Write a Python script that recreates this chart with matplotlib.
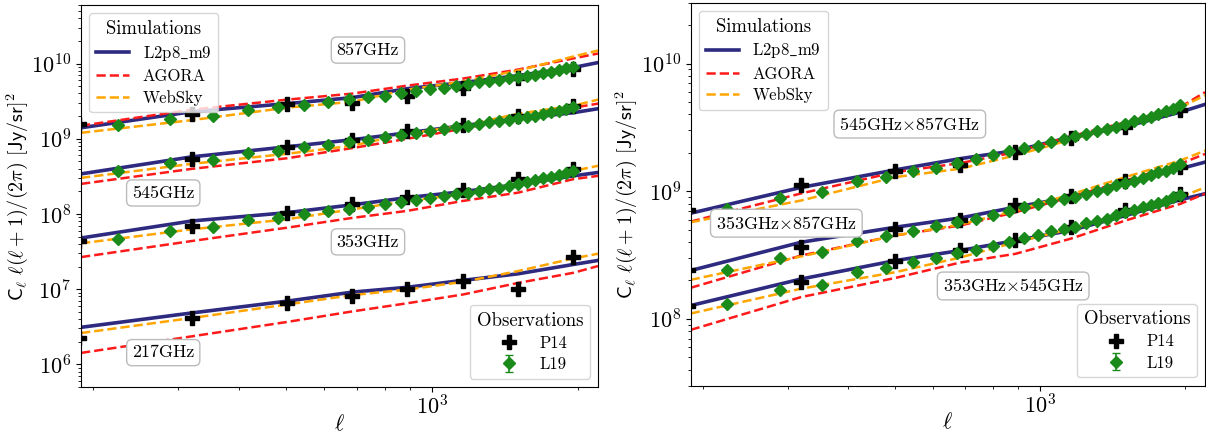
import numpy as np
import matplotlib
matplotlib.use('Agg')
import matplotlib.pyplot as plt
from matplotlib.ticker import NullFormatter

plt.rcParams['font.family'] = 'serif'
plt.rcParams['font.serif'] = ['cmr10']
plt.rcParams['mathtext.fontset'] = 'cm'
plt.rcParams['axes.formatter.use_mathtext'] = True
plt.rcParams['axes.unicode_minus'] = False

# multipoles
sim_ell = [189, 320, 502, 684, 890, 1158, 1505, 1956, 2200]
p14_ell = [187, 320, 502, 684, 890, 1158, 1505, 1956]
l19_ell = [225, 289, 353, 417, 481, 545, 609, 673, 737, 801, 865, 929, 993, 1057,
           1121, 1185, 1249, 1313, 1377, 1441, 1505, 1569, 1633, 1697, 1761, 1825, 1889, 1953]

# ---- auto spectra
l2p8_857 = [1.40e9, 2.29e9, 2.93e9, 3.52e9, 4.64e9, 5.58e9, 6.92e9, 8.85e9, 1.03e10]
agora_857 = [1.49e9, 2.44e9, 3.31e9, 3.98e9, 5.09e9, 6.31e9, 8.32e9, 1.17e10, 1.36e10]
websky_857 = [1.20e9, 1.77e9, 2.59e9, 3.10e9, 4.50e9, 5.75e9, 8.07e9, 1.24e10, 1.49e10]
p14_857 = [1.58e9, 2.15e9, 2.93e9, 3.02e9, 3.74e9, 4.79e9, 6.5e9, 8.58e9]
l19_857 = [1.54e9, 1.83e9, 1.98e9, 2.44e9, 2.62e9, 2.84e9, 3.05e9, 3.38e9, 3.56e9, 3.74e9,
           4.02e9, 4.37e9, 4.59e9, 4.74e9, 5.09e9, 5.36e9, 5.64e9, 5.93e9, 6.12e9, 6.44e9,
           6.71e9, 6.92e9, 7.13e9, 7.43e9, 7.82e9, 8.32e9, 8.67e9, 9.12e9]

l2p8_545 = [3.41e8, 5.75e8, 7.81e8, 9.7e8, 1.20e9, 1.49e9, 1.85e9, 2.22e9, 2.51e9]
agora_545 = [2.51e8, 3.98e8, 5.5e8, 7.5e8, 1.0e9, 1.36e9, 1.91e9, 2.59e9, 2.93e9]
websky_545 = [3.02e8, 4.64e8, 6.31e8, 8.07e8, 1.17e9, 1.49e9, 2.15e9, 2.75e9, 3.31e9]
p14_545 = [np.nan, 5.41e8, 7.81e8, 9.7e8, 1.28e9, 1.54e9, 2.03e9, 2.75e9]
l19_545 = [3.74e8, 4.74e8, 5.25e8, 6.44e8, 6.92e8, 7.82e8, 8.32e8, 8.93e8, 9.6e8, 1.04e9,
           1.12e9, 1.18e9, 1.25e9, 1.35e9, 1.45e9, 1.49e9, 1.57e9, 1.65e9, 1.70e9, 1.77e9,
           1.89e9, 1.96e9, 2.03e9, 2.13e9, 2.24e9, 2.36e9, 2.49e9, 2.61e9]

l2p8_353 = [4.79e7, 8.07e7, 1.04e8, 1.32e8, 1.65e8, 1.98e8, 2.47e8, 3.21e8, 3.56e8]
agora_353 = [2.67e7, 4.37e7, 6.56e7, 8.85e7, 1.10e8, 1.49e8, 1.92e8, 2.90e8, 3.21e8]
websky_353 = [4.07e7, 6.25e7, 8.49e7, 1.15e8, 1.49e8, 1.83e8, 2.51e8, 3.74e8, 4.37e8]
p14_353 = [4.37e7, 6.92e7, 1.02e8, 1.35e8, 1.70e8, 2.07e8, 2.9e8, 3.94e8]
l19_353 = [4.60e7, 5.93e7, 6.71e7, 8.24e7, 8.93e7, 1.01e8, 1.10e8, 1.18e8, 1.25e8, 1.37e8,
           1.46e8, 1.54e8, 1.65e8, 1.74e8, 1.83e8, 1.92e8, 2.03e8, 2.13e8, 2.24e8, 2.36e8,
           2.47e8, 2.63e8, 2.80e8, 2.97e8, 3.11e8, 3.31e8, 3.52e8, 3.74e8]

l2p8_217 = [3.11e6, 4.83e6, 6.92e6, 9.12e6, 1.06e7, 1.31e7, 1.60e7, 2.13e7, 2.41e7]
agora_217 = [1.42e6, 2.36e6, 3.66e6, 5.05e6, 6.5e6, 8.49e6, 1.21e7, 1.65e7, 2.03e7]
websky_217 = [2.61e6, 4.14e6, 6.25e6, 8.32e6, 9.9e6, 1.25e7, 1.74e7, 2.56e7, 2.96e7]
p14_217 = [2.22e6, 4.14e6, 6.56e6, 8.07e6, 1.02e7, 1.28e7, 1.02e7, 2.67e7]

# ---- cross spectra
l2p8_545x857 = [6.72e8, 1.07e9, 1.47e9, 1.80e9, 2.08e9, 2.65e9, 3.21e9, 4.17e9, 4.79e9]
agora_545x857 = [5.78e8, 9.6e8, 1.41e9, 1.66e9, 2.02e9, 2.69e9, 3.47e9, 4.56e9, 5.97e9]
websky_545x857 = [5.71e8, 8.45e8, 1.29e9, 1.50e9, 1.91e9, 2.53e9, 3.38e9, 4.53e9, 5.64e9]
p14_545x857 = [7.14e8, 1.11e9, 1.44e9, 1.59e9, 2.02e9, 2.61e9, 3.21e9, 4.30e9]
l19_545x857 = [7.28e8, 8.87e8, 9.82e8, 1.21e9, 1.29e9, 1.44e9, 1.51e9, 1.66e9, 1.80e9, 1.91e9,
               2.06e9, 2.17e9, 2.28e9, 2.45e9, 2.58e9, 2.69e9, 2.82e9, 2.96e9, 3.09e9, 3.21e9,
               3.38e9, 3.52e9, 3.65e9, 3.80e9, 4.0e9, 4.22e9, 4.43e9, 4.70e9]

l2p8_353x857 = [2.39e8, 3.98e8, 5.22e8, 6.17e8, 7.5e8, 8.98e8, 1.16e9, 1.50e9, 1.69e9]
agora_353x857 = [1.75e8, 3.13e8, 4.50e8, 5.38e8, 6.84e8, 8.98e8, 1.21e9, 1.64e9, 1.96e9]
websky_353x857 = [2.02e8, 3.08e8, 4.5e8, 5.48e8, 7.05e8, 9.42e8, 1.29e9, 1.74e9, 2.08e9]
p14_353x857 = [2.42e8, 3.64e8, 5.07e8, 5.97e8, 7.73e8, 9.25e8, 1.21e9, 1.54e9]
l19_353x857 = [2.42e8, 3.01e8, 3.33e8, 4.10e8, 4.44e8, 4.86e8, 5.38e8, 5.78e8, 6.08e8, 6.56e8,
               7.05e8, 7.50e8, 7.96e8, 8.45e8, 8.71e8, 9.08e8, 9.55e8, 1.0e9, 1.04e9, 1.11e9,
               1.16e9, 1.21e9, 1.27e9, 1.33e9, 1.41e9, 1.45e9, 1.53e9, 1.62e9]

l2p8_353x545 = [1.27e8, 2.05e8, 2.86e8, 3.43e8, 4.10e8, 4.92e8, 6.44e8, 8.57e8, 9.55e8]
agora_353x545 = [8.19e7, 1.48e8, 2.09e8, 2.76e8, 3.23e8, 4.24e8, 5.89e8, 7.96e8, 9.55e8]
websky_353x545 = [1.10e8, 1.72e8, 2.32e8, 3.02e8, 3.98e8, 5.07e8, 6.72e8, 8.98e8, 1.07e9]
p14_353x545 = [1.27e8, 1.93e8, 2.82e8, 3.47e8, 4.16e8, 5.28e8, 7.06e8, 9.55e8]
l19_353x545 = [1.31e8, 1.69e8, 1.85e8, 2.32e8, 2.51e8, 2.77e8, 3.01e8, 3.27e8, 3.47e8, 3.75e8,
               4.03e8, 4.31e8, 4.55e8, 4.86e8, 5.07e8, 5.22e8, 5.61e8, 5.82e8, 6.08e8, 6.56e8,
               6.84e8, 7.14e8, 7.50e8, 7.73e8, 8.11e8, 8.45e8, 8.97e8, 9.42e8]

l19_rel_err = 0.03

c_sim = '#2d2a80'
c_agora = '#ff1a1a'
c_websky = '#ffa500'
c_l19 = '#1a8a1a'


def draw_group(ax, l2p8, agora, websky, p14, l19=None):
    ax.plot(sim_ell, l2p8, '-', color=c_sim, lw=2.6, label=r'L2p8$\_$m9')
    ax.plot(sim_ell, agora, '--', color=c_agora, lw=1.8, label='AGORA')
    ax.plot(sim_ell, websky, '--', color=c_websky, lw=1.8, label='WebSky')
    ax.plot(p14_ell, p14, 'P', color='k', ms=10, ls='none', label='P14')
    if l19 is not None:
        l19 = np.array(l19)
        ax.errorbar(l19_ell, l19, yerr=l19_rel_err * l19, fmt='D', color=c_l19,
                    ms=6, capsize=3, elinewidth=1.2, label='L19')


def finish(ax, ylim, boxes):
    ax.set_xscale('log')
    ax.set_yscale('log')
    ax.set_xlim(189, 2200)
    ax.set_ylim(*ylim)
    ax.xaxis.set_minor_formatter(NullFormatter())
    ax.tick_params(labelsize=16)
    ax.tick_params(axis='x', pad=2)
    ax.set_xlabel(r'$\ell$', fontsize=16, labelpad=-4)
    ax.set_ylabel(r'$\mathsf{C}_\ell\ \ell(\ell+1)/(2\pi)\ [\mathsf{Jy/sr}]^2$', fontsize=14.5,
                  labelpad=1)
    for (tx, ty, s) in boxes:
        ax.text(tx, ty, s, transform=ax.transAxes, fontsize=13, ha='center', va='center',
                bbox=dict(boxstyle='round,pad=0.3', fc='white', ec='#bbbbbb'))
    h, l = ax.get_legend_handles_labels()
    sims = [h[l.index(k)] for k in [r'L2p8$\_$m9', 'AGORA', 'WebSky']]
    obs = [h[l.index(k)] for k in ['P14', 'L19']]
    leg1 = ax.legend(sims, [r'L2p8$\_$m9', 'AGORA', 'WebSky'], title='Simulations',
                     loc='upper left', fontsize=12, title_fontsize=13.5, labelspacing=0.35)
    ax.add_artist(leg1)
    ax.legend(obs, ['P14', 'L19'], title='Observations', loc='lower right', fontsize=12,
              title_fontsize=13.5, labelspacing=0.35, numpoints=1)


fig = plt.figure(figsize=(12.06, 4.37), dpi=100)
ax1 = fig.add_axes([0.0672, 0.1144, 0.4287, 0.8741])
ax2 = fig.add_axes([0.5727, 0.1178, 0.4265, 0.876])

draw_group(ax1, l2p8_857, agora_857, websky_857, p14_857, l19_857)
draw_group(ax1, l2p8_545, agora_545, websky_545, p14_545, l19_545)
draw_group(ax1, l2p8_353, agora_353, websky_353, p14_353, l19_353)
draw_group(ax1, l2p8_217, agora_217, websky_217, p14_217)
finish(ax1, (5e5, 6e10), [(0.555, 0.882, '857GHz'), (0.159, 0.508, '545GHz'),
                           (0.555, 0.380, '353GHz'), (0.159, 0.090, '217GHz')])

draw_group(ax2, l2p8_545x857, agora_545x857, websky_545x857, p14_545x857, l19_545x857)
draw_group(ax2, l2p8_353x857, agora_353x857, websky_353x857, p14_353x857, l19_353x857)
draw_group(ax2, l2p8_353x545, agora_353x545, websky_353x545, p14_353x545, l19_353x545)
finish(ax2, (3e7, 3e10), [(0.426, 0.683, r'545GHz$\times$857GHz'),
                          (0.186, 0.424, r'353GHz$\times$857GHz'),
                          (0.627, 0.260, r'353GHz$\times$545GHz')])

fig.savefig('out.png', dpi=100)
